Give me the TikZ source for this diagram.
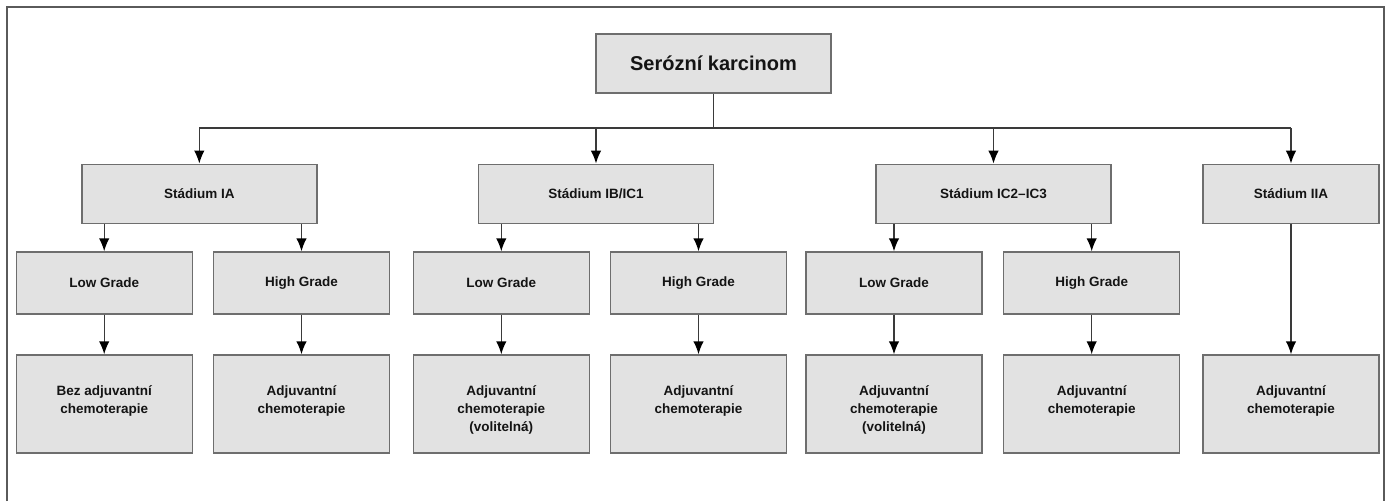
\documentclass[tikz,border=0pt]{standalone}
\usepackage{fontspec}
\setmainfont{Liberation Sans}
\usetikzlibrary{arrows.meta}
\definecolor{boxfill}{HTML}{E2E2E2}
\definecolor{boxline}{HTML}{6E6E6E}
\definecolor{wire}{HTML}{3A3A3A}
\definecolor{frameline}{HTML}{5A5A5A}
\definecolor{ink}{HTML}{141414}
\begin{document}
\begin{tikzpicture}[x=1pt,y=-1pt,
  box/.style={draw=boxline, fill=boxfill, line width=1.4pt, inner sep=0pt,
    text=ink, font=\bfseries\fontsize{13.5}{18}\selectfont},
  rootbox/.style={box, minimum width=235pt, minimum height=59pt,
    font=\bfseries\fontsize{20}{24}\selectfont},
  stagebox/.style={box, minimum width=235pt, minimum height=59pt},
  gradebox/.style={box, minimum width=176pt, minimum height=62pt},
  resbox/.style={box, minimum width=176pt, minimum height=98pt},
  restext/.style={inner sep=0pt, align=center, anchor=north, text=ink,
    font=\bfseries\fontsize{13.5}{18}\selectfont},
  link/.style={draw=wire, line width=1.4pt},
  arr/.style={link, -{Latex[length=13pt,width=10.5pt,color=black]}}
]
\useasboundingbox (0,0) rectangle (1385,501);

% outer frame
\draw[frameline, line width=2pt] (7,501) -- (7,7) -- (1384,7) -- (1384,501);

% root
\node[rootbox] (root) at (713.5,63.5) {Serózní karcinom};
\coordinate (bus) at (713.5,128);

% stages
\node[stagebox] (sA)  at (199.3,193.8) {Stádium IA};
\node[stagebox] (sB)  at (596,193.8)   {Stádium IB/IC1};
\node[stagebox] (sC)  at (993.5,193.8) {Stádium IC2--IC3};
\node[stagebox, minimum width=176pt] (sD) at (1291,193.8) {Stádium IIA};

% grades
\node[gradebox] (gAl) at (104.2,283) {Low Grade};
\node[gradebox] (gAh) at (301.5,283) {High Grade};
\node[gradebox] (gBl) at (501.3,283) {Low Grade};
\node[gradebox] (gBh) at (698.5,283) {High Grade};
\node[gradebox] (gCl) at (894,283)   {Low Grade};
\node[gradebox] (gCh) at (1091.7,283) {High Grade};

% treatments
\node[resbox] (rAl) at (104.2,404) {};
\node[resbox] (rAh) at (301.5,404) {};
\node[resbox] (rBl) at (501.3,404) {};
\node[resbox] (rBh) at (698.5,404) {};
\node[resbox] (rCl) at (894,404)   {};
\node[resbox] (rCh) at (1091.7,404) {};
\node[resbox] (rD)  at (1291,404)  {};

\node[restext] (tAl) at ([yshift=-31pt]rAl.north) {Bez adjuvantní\\chemoterapie};
\node[restext] (tAh) at ([yshift=-31pt]rAh.north) {Adjuvantní\\chemoterapie};
\node[restext] (tBl) at ([yshift=-31pt]rBl.north) {Adjuvantní\\chemoterapie\\(volitelná)};
\node[restext] (tBh) at ([yshift=-31pt]rBh.north) {Adjuvantní\\chemoterapie};
\node[restext] (tCl) at ([yshift=-31pt]rCl.north) {Adjuvantní\\chemoterapie\\(volitelná)};
\node[restext] (tCh) at ([yshift=-31pt]rCh.north) {Adjuvantní\\chemoterapie};
\node[restext] (tD)  at ([yshift=-31pt]rD.north)  {Adjuvantní\\chemoterapie};

% root to stages
\draw[link] (root.south) -- (bus);
\draw[link] (sA.north |- bus) -- (sD.north |- bus);
\foreach \s in {sA,sB,sC,sD}
  \draw[arr] (\s.north |- bus) -- (\s.north);

% stages to grades
\foreach \s/\g in {sA/gAl,sA/gAh,sB/gBl,sB/gBh,sC/gCl,sC/gCh}
  \draw[arr] (\g.north |- \s.south) -- (\g.north);

% grades to treatments
\foreach \g/\r in {gAl/rAl,gAh/rAh,gBl/rBl,gBh/rBh,gCl/rCl,gCh/rCh}
  \draw[arr] (\g.south) -- (\r.north);
\draw[arr] (sD.south) -- (rD.north);
\end{tikzpicture}
\end{document}
